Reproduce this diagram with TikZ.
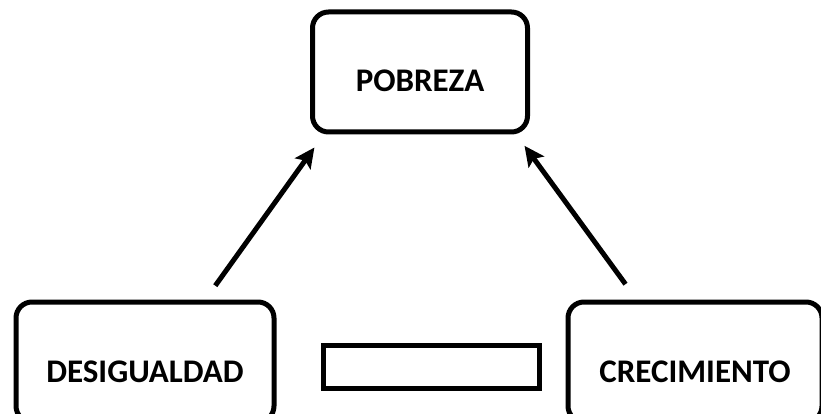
\documentclass[tikz,border=0pt]{standalone}
\usepackage{fontspec}
\setmainfont{Carlito}
\usetikzlibrary{arrows.meta}
\tikzset{
    %Define standard arrow tip
    >={Stealth[length=20pt,width=19pt,inset=4pt]},
    %Define style for boxes
    box/.style={
           rectangle,
           rounded corners=16pt,
           draw=black, line width=5pt,
           minimum width=215pt,
           minimum height=120pt,
           font=\fontsize{33}{38}\selectfont\bfseries,
           text height=40pt, text depth=0pt},
    %Define style for the empty box
    blank/.style={
           rectangle,
           draw=black, line width=5pt,
           minimum width=216pt,
           minimum height=43pt},
    % Define arrow style
    imply/.style={
           ->,
           line width=5pt}
}
\begin{document}
\begin{tikzpicture}[x=1pt,y=-1pt]
 \useasboundingbox (0,0) rectangle (821,414);
 %nodes
    \node[box] (pob) at (420,72) {POBREZA};
    \node[box, minimum width=258pt] (des) at (145,362) {DESIGUALDAD};
    \node[box, minimum width=254pt] (cre) at (695,362) {CRECIMIENTO};
    \node[blank] (mid) at (431,367) {};
 %edges
    \draw[imply, shorten <=17pt, shorten >=16pt] (des.46) -- (pob.213);
    \draw[imply, shorten <=19pt, shorten >=14pt] (cre.133) -- (pob.327.5);
\end{tikzpicture}
\end{document}
